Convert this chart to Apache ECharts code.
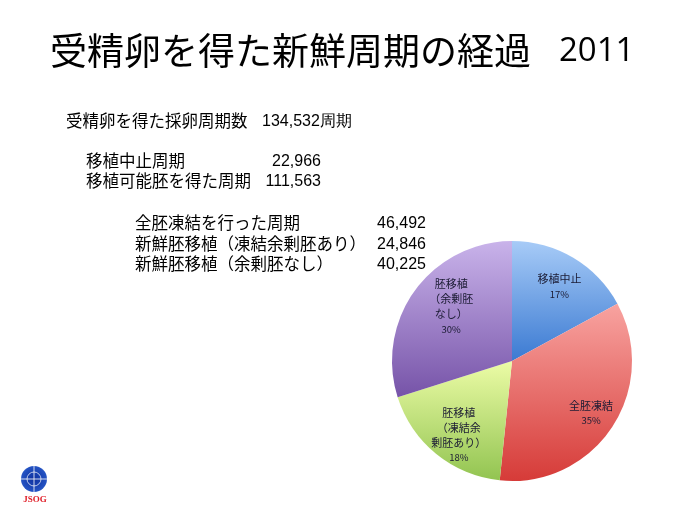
<!DOCTYPE html>
<html><head><meta charset="utf-8">
<script src="https://cdn.jsdelivr.net/npm/echarts@6/dist/echarts.min.js"></script>
<style>html,body{margin:0;padding:0;background:#fff}#c{width:683px;height:511px}</style>
</head><body><div id="c"></div>
<script>
const categories = ['移植中止', '全胚凍結', '胚移植\n（凍結余\n剰胚あり）', '胚移植\n（余剰胚\nなし）'];
const values = [22966, 46492, 24846, 40225];
const title = '受精卵を得た新鮮周期の経過';
const year = '2011';
const summaryLabels = ['受精卵を得た採卵周期数', '移植中止周期', '移植可能胚を得た周期', '全胚凍結を行った周期', '新鮮胚移植（凍結余剰胚あり）', '新鮮胚移植（余剰胚なし）'];
const summaryValues = ['134,532周期', '22,966', '111,563', '46,492', '24,846', '40,225'];

const gradients = [
  ['#a7cbf7', '#3b7ad2'],
  ['#f8a3a0', '#d63b38'],
  ['#ecfca6', '#92c451'],
  ['#c9b3ea', '#7653a8']
];
const grad = c => new echarts.graphic.LinearGradient(0, 0, 0, 1, [{offset: 0, color: c[0]}, {offset: 1, color: c[1]}]);

const chart = echarts.init(document.getElementById('c'));
const jp = '"Noto Sans CJK JP", sans-serif';
const num = '"Liberation Sans", Arial, sans-serif';

const els = [];
els.push({type: 'text', x: 50, y: 51, style: {text: title, font: '37px ' + jp, fill: '#000', verticalAlign: 'middle'}});
els.push({type: 'text', x: 559, y: 52, style: {text: year, font: '33px "Open Sans", sans-serif', fill: '#000', verticalAlign: 'middle'}});
const rows = [
  {x: 66, y: 121, vx: 262, align: 'left'},
  {x: 86, y: 161, vx: 321, align: 'right'},
  {x: 86, y: 181, vx: 321, align: 'right'},
  {x: 135, y: 223, vx: 426, align: 'right'},
  {x: 135, y: 244, vx: 426, align: 'right'},
  {x: 135, y: 264, vx: 426, align: 'right'}
];
rows.forEach((r, i) => {
  els.push({type: 'text', x: r.x, y: r.y, style: {text: summaryLabels[i], font: '16.5px ' + jp, fill: '#000', verticalAlign: 'middle'}});
  els.push({type: 'text', x: r.vx, y: r.y + 1, style: {text: summaryValues[i], font: '16px ' + num, fill: '#000', align: r.align, verticalAlign: 'middle'}});
});
// logo
els.push({type: 'circle', shape: {cx: 34, cy: 479, r: 13}, style: {fill: new echarts.graphic.RadialGradient(0.5, 0.5, 0.6, [{offset: 0, color: '#0d2f9e'}, {offset: 1, color: '#2a5ccc'}])}});
els.push({type: 'arc', shape: {cx: 34, cy: 479, r: 7, startAngle: 0, endAngle: Math.PI * 2}, style: {stroke: 'rgba(255,255,255,0.7)', fill: null, lineWidth: 1}});
els.push({type: 'line', shape: {x1: 21, y1: 479, x2: 47, y2: 479}, style: {stroke: 'rgba(255,255,255,0.8)', lineWidth: 1}});
els.push({type: 'line', shape: {x1: 34, y1: 466, x2: 34, y2: 492}, style: {stroke: 'rgba(255,255,255,0.8)', lineWidth: 1}});
els.push({type: 'text', x: 35, y: 500, style: {text: 'JSOG', font: 'bold 9px "Liberation Serif", serif', fill: '#e0202a', align: 'center', verticalAlign: 'middle'}});

const labelShift = [[2, 2], [5, 3], [3, 5], [11, -2]];

chart.setOption({
  animation: false,
  backgroundColor: '#fff',
  graphic: els,
  series: [
    {
      type: 'pie', center: [512, 361], radius: [0, 120], startAngle: 90, clockwise: true,
      label: {show: false}, labelLine: {show: false}, silent: true,
      data: values.map((v, i) => ({name: categories[i], value: v, itemStyle: {color: grad(gradients[i])}}))
    },
    {
      type: 'pie', center: [512, 361], radius: [52, 120], startAngle: 90, clockwise: true, silent: true,
      itemStyle: {color: 'rgba(0,0,0,0)'},
      label: {show: true, position: 'inside', color: '#1b1b33', fontSize: 11, lineHeight: 15, fontFamily: jp,
        formatter: p => p.name + '\n{p|' + Math.round(p.percent) + '%}',
        rich: {p: {fontSize: 9.5, fontFamily: jp, color: '#1b1b33', lineHeight: 15}}},
      labelLayout: p => ({dx: labelShift[p.dataIndex][0], dy: labelShift[p.dataIndex][1]}),
      data: values.map((v, i) => ({name: categories[i], value: v}))
    }
  ]
});
</script></body></html>
